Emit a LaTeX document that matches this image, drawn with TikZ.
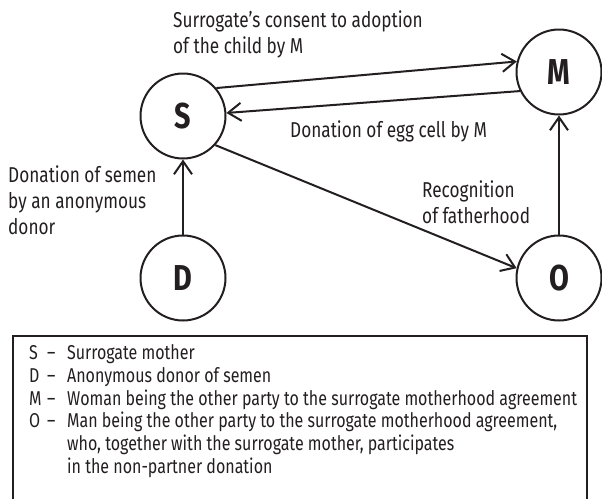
\documentclass[tikz,border=0pt]{standalone}
\usepackage{fontspec}
\setmainfont[FakeStretch=0.8]{Fira Sans}
\usetikzlibrary{arrows.meta}
\definecolor{ink}{HTML}{231F20}

\begin{document}
\begin{tikzpicture}[x=1pt,y=-1pt,color=ink,
  party/.style={circle,draw,line width=2pt,minimum size=85pt,inner sep=0pt,
    font=\fontsize{36}{36}\selectfont\bfseries},
  flow/.style={line width=2pt,-{Straight Barb[length=13pt,width=18pt]}},
  lbl/.style={anchor=base west,inner sep=0pt,font=\fontsize{21.5}{25}\selectfont},
  keyline/.style={anchor=base west,inner sep=0pt,font=\fontsize{20}{23}\selectfont}]
\useasboundingbox (0,0) rectangle (602,498);

% parties
\node[party] (S) at (183,116) {S};
\node[party] (M) at (559,72) {M};
\node[party] (D) at (183,278) {D};
\node[party] (O) at (559,278) {O};

% relations
\draw[flow] (S.40) -- (M.166);
\draw[flow] (M.206) -- (S.4);
\draw[flow] (S.-42) -- (O.167);
\draw[flow] (D.north) -- (S.south);
\draw[flow] (O.north) -- (M.south);

% relation labels
\node[lbl] (c1) at (173,27) {Surrogate's consent to adoption};
\node[lbl] (c2) at (173,53) {of the child by M};
\node[lbl] (e1) at (290,137) {Donation of egg cell by M};
\node[lbl] (d1) at (8,182) {Donation of semen};
\node[lbl] (d2) at (8,208) {by an anonymous};
\node[lbl] (d3) at (8,234) {donor};
\node[lbl] (r1) at (422,197) {Recognition};
\node[lbl] (r2) at (422,223) {of fatherhood};

% key
\draw[line width=1.2pt] (13,520) -- (13,336) -- (587,336) -- (587,520);
\foreach \y/\k/\t [count=\i] in {
  359/S/Surrogate mother,
  382/D/Anonymous donor of semen,
  405/M/Woman being the other party to the surrogate motherhood agreement,
  427/O/{Man being the other party to the surrogate motherhood agreement,}} {
  \node[keyline] (k\i) at (29,\y) {\k};
  \node[keyline] (dash\i) at (47,\y) {--};
  \node[keyline] (t\i) at (67,\y) {\t};
}
\node[keyline] (t5) at (67,450) {who, together with the surrogate mother, participates};
\node[keyline] (t6) at (67,473) {in the non-partner donation};
\end{tikzpicture}
\end{document}
